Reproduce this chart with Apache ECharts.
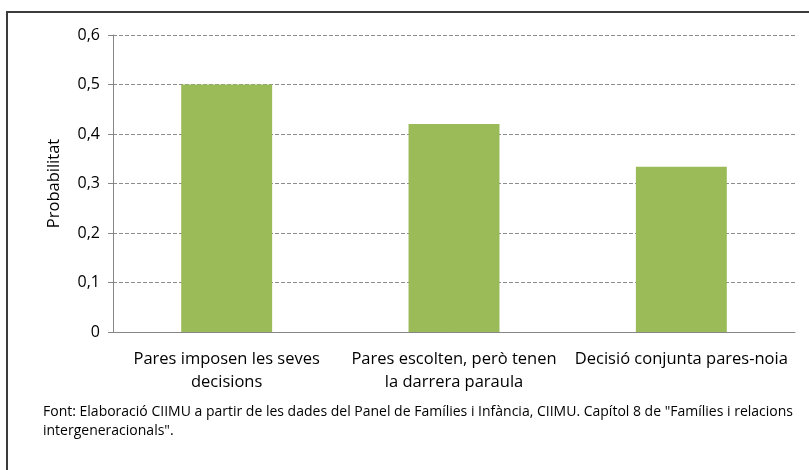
<!DOCTYPE html>
<html>
<head>
<meta charset="utf-8">
<script src="https://cdn.jsdelivr.net/npm/echarts@6/dist/echarts.min.js"></script>
<style>
  html, body { margin: 0; padding: 0; background: #fff; }
  #main { width: 809px; height: 470px; }
</style>
</head>
<body>
<div id="main"></div>
<script>
var categories = ['Pares imposen les seves\ndecisions', 'Pares escolten, però tenen\nla darrera paraula', 'Decisió conjunta pares-noia'];
var values = [0.5, 0.42, 0.334];
var yTicks = { min: 0, max: 0.6, interval: 0.1 };
var footnote = 'Font: Elaboració CIIMU a partir de les dades del Panel de Famílies i Infància, CIIMU. Capítol 8 de "Famílies i relacions\nintergeneracionals".';

var font = '"Open Sans", Lato, sans-serif';

var myChart = echarts.init(document.getElementById('main'));
myChart.setOption({
    animation: false,
    grid: { left: 113, right: 14, top: 35, bottom: 138 },
    graphic: [
        { type: 'line', shape: { x1: 6, y1: 12, x2: 809, y2: 12 }, style: { stroke: '#3c3c3c', lineWidth: 2 } },
        { type: 'line', shape: { x1: 7, y1: 12, x2: 7, y2: 470 }, style: { stroke: '#3c3c3c', lineWidth: 2 } },
        {
            type: 'text', left: 43, top: 403,
            style: { text: footnote, font: '14px ' + font, fill: '#000', lineHeight: 19 }
        }
    ],
    xAxis: {
        type: 'category',
        data: categories,
        axisLine: { lineStyle: { color: '#868686', width: 1 } },
        axisTick: { show: false },
        axisLabel: { color: '#000', fontSize: 16.5, fontFamily: font, margin: 16, lineHeight: 23, interval: 0 }
    },
    yAxis: {
        type: 'value',
        min: yTicks.min, max: yTicks.max, interval: yTicks.interval,
        name: 'Probabilitat',
        nameLocation: 'middle',
        nameGap: 50,
        nameTextStyle: { color: '#000', fontSize: 16.5, fontFamily: font },
        axisLine: { show: true, lineStyle: { color: '#868686' } },
        axisTick: { show: true, length: 5, lineStyle: { color: '#868686' } },
        axisLabel: {
            color: '#000', fontSize: 16, fontFamily: font, margin: 13,
            formatter: function (v) { return v === 0 ? '0' : v.toFixed(1).replace('.', ','); }
        },
        splitLine: { lineStyle: { color: '#8c8c8c', type: [4, 2], width: 1 } }
    },
    series: [{
        type: 'bar',
        data: values,
        barWidth: '40%',
        itemStyle: { color: '#9bbb59' }
    }]
});
</script>
</body>
</html>
